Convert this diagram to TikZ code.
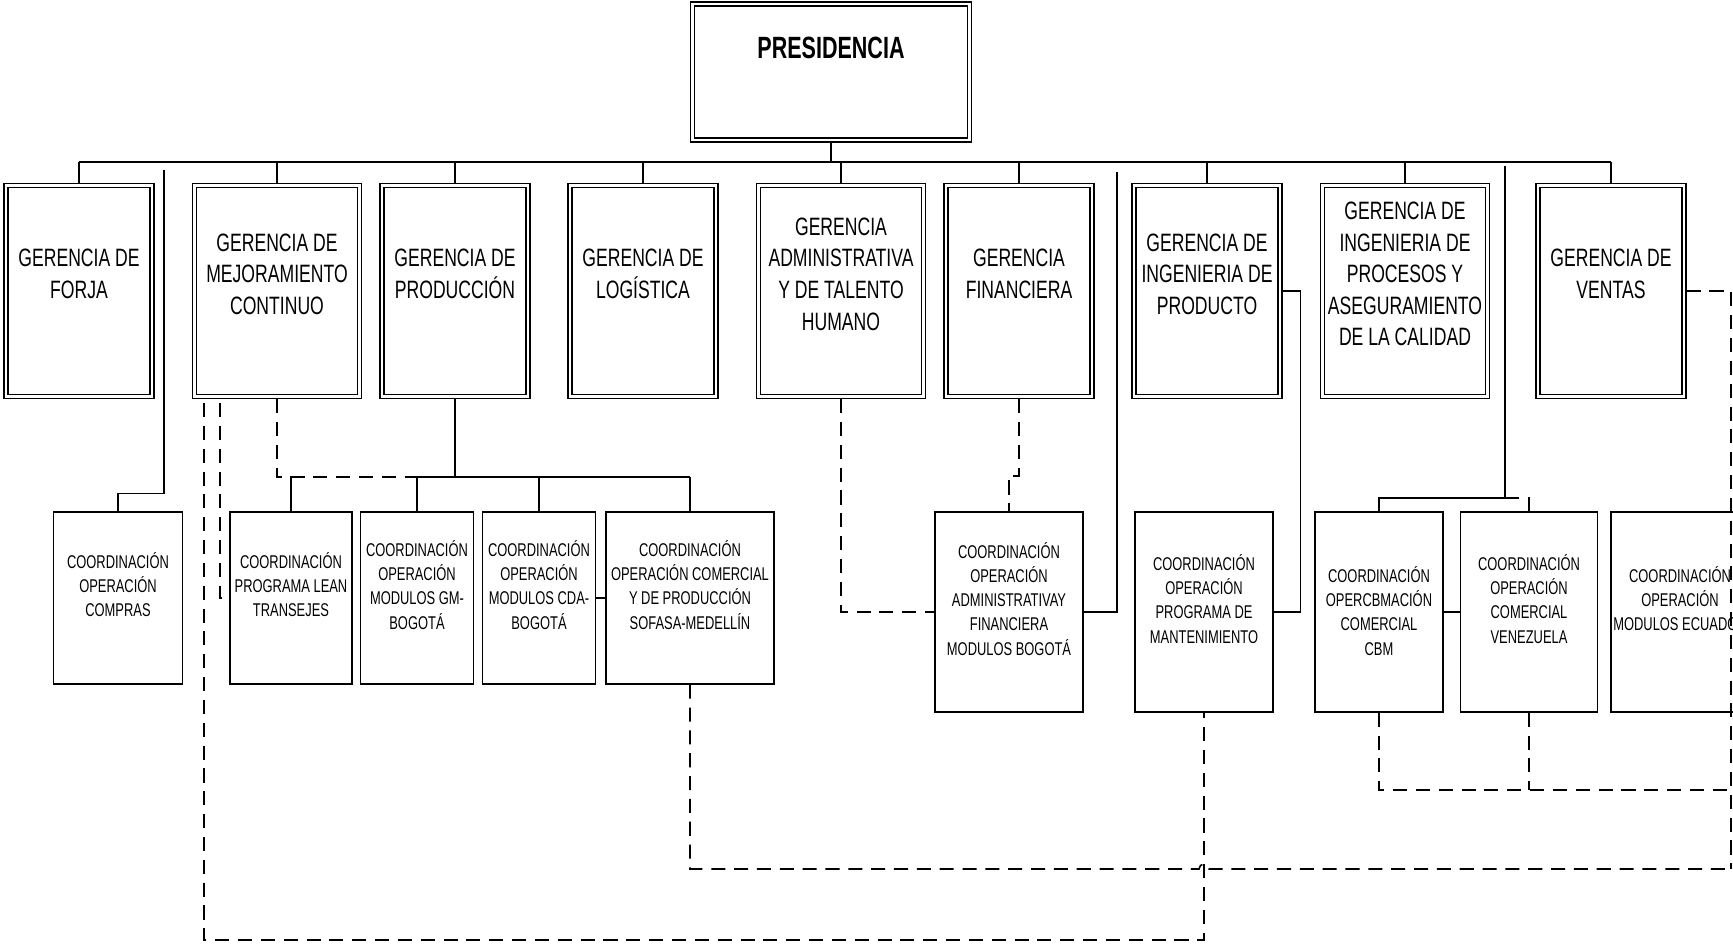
\documentclass[tikz,border=0pt]{standalone}
\usepackage{fontspec}
\setmainfont{Liberation Sans}[FakeStretch=0.7]
\usepackage{tikz}
\usetikzlibrary{positioning, calc}

\begin{document}
\begin{tikzpicture}[
    x=0.02cm, y=-0.02cm,
    gbox/.style={rectangle, draw, double, double distance=1.6pt, line width=0.7pt, minimum width=2.92cm, minimum height=4.22cm, outer sep=1.5pt},
    wide/.style={minimum width=3.3cm},
    gtext/.style={align=center, inner sep=0pt, font=\fontsize{14.3}{18}\selectfont},
    ptext/.style={inner sep=0pt, font=\bfseries\fontsize{17.5}{20}\selectfont},
    cbox/.style={rectangle, draw, line width=0.8pt, minimum height=3.44cm},
    tall/.style={minimum height=4cm},
    ctext/.style={align=center, inner sep=0pt, font=\fontsize{10.5}{13.7}\selectfont},
    conn/.style={line width=0.8pt},
    bus/.style={line width=1.3pt},
    dconn/.style={line width=0.9pt, dash pattern=on 8pt off 5pt}
]
\useasboundingbox (0,0) rectangle (1733,945);
\clip (0,0) rectangle (1733,945);

% Presidencia
\node[gbox, minimum width=5.53cm, minimum height=2.72cm] (pres) at (831,72) {};
\node[ptext] (prestxt) at (831,48) {PRESIDENCIA};

% Gerencias
\node[gbox] (forja) at (79,291) {};
\node[gbox, wide] (mej) at (277,291) {};
\node[gbox] (prod) at (455,291) {};
\node[gbox] (log) at (643,291) {};
\node[gbox, wide] (adm) at (841,291) {};
\node[gbox] (fin) at (1019,291) {};
\node[gbox] (ingp) at (1207,291) {};
\node[gbox, wide] (proc) at (1405,291) {};
\node[gbox] (ventas) at (1611,291) {};

% Gerencia labels
\node[gtext] (forjatxt) at (79,274) {GERENCIA DE\\FORJA};
\node[gtext] (mejtxt) at (277,274) {GERENCIA DE\\MEJORAMIENTO\\CONTINUO};
\node[gtext] (prodtxt) at (455,274) {GERENCIA DE\\PRODUCCIÓN};
\node[gtext] (logtxt) at (643,274) {GERENCIA DE\\LOGÍSTICA};
\node[gtext] (admtxt) at (841,274) {GERENCIA\\ADMINISTRATIVA\\Y DE TALENTO\\HUMANO};
\node[gtext] (fintxt) at (1019,274) {GERENCIA\\FINANCIERA};
\node[gtext] (ingptxt) at (1207,274) {GERENCIA DE\\INGENIERIA DE\\PRODUCTO};
\node[gtext] (proctxt) at (1405,274) {GERENCIA DE\\INGENIERIA DE\\PROCESOS Y\\ASEGURAMIENTO\\DE LA CALIDAD};
\node[gtext] (ventastxt) at (1611,274) {GERENCIA DE\\VENTAS};

% Coordinaciones
\node[cbox, minimum width=2.58cm] (comp) at (118,598) {};
\node[cbox, minimum width=2.44cm] (lean) at (291,598) {};
\node[cbox, minimum width=2.26cm] (gm) at (417,598) {};
\node[cbox, minimum width=2.26cm] (cda) at (539,598) {};
\node[cbox, minimum width=3.36cm] (sofasa) at (690,598) {};
\node[cbox, tall, minimum width=2.96cm] (admfin) at (1009,612) {};
\node[cbox, tall, minimum width=2.76cm] (mant) at (1204,612) {};
\node[cbox, tall, minimum width=2.56cm] (cbm) at (1379,612) {};
\node[cbox, tall, minimum width=2.74cm] (venz) at (1529,612) {};
\node[cbox, tall, minimum width=2.76cm] (ecu) at (1680,612) {};

% Coordinacion labels
\node[ctext] (comptxt) at (118,585) {COORDINACIÓN\\OPERACIÓN\\COMPRAS};
\node[ctext] (leantxt) at (291,585) {COORDINACIÓN\\PROGRAMA LEAN\\TRANSEJES};
\node[ctext] (gmtxt) at (417,585) {COORDINACIÓN\\OPERACIÓN\\MODULOS GM-\\BOGOTÁ};
\node[ctext] (cdatxt) at (539,585) {COORDINACIÓN\\OPERACIÓN\\MODULOS CDA-\\BOGOTÁ};
\node[ctext] (sofasatxt) at (690,585) {COORDINACIÓN\\OPERACIÓN COMERCIAL\\Y DE PRODUCCIÓN\\SOFASA-MEDELLÍN};
\node[ctext] (admfintxt) at (1009,599) {COORDINACIÓN\\OPERACIÓN\\ADMINISTRATIVAY\\FINANCIERA\\MODULOS BOGOTÁ};
\node[ctext] (manttxt) at (1204,599) {COORDINACIÓN\\OPERACIÓN\\PROGRAMA DE\\MANTENIMIENTO};
\node[ctext] (cbmtxt) at (1379,611) {COORDINACIÓN\\OPERCBMACIÓN\\COMERCIAL\\CBM};
\node[ctext] (venztxt) at (1529,599) {COORDINACIÓN\\OPERACIÓN\\COMERCIAL\\VENEZUELA};
\node[ctext] (ecutxt) at (1680,599) {COORDINACIÓN\\OPERACIÓN\\MODULOS ECUADOR};

% Bus from presidencia
\coordinate (busl) at (79,162);
\coordinate (busr) at (1611,162);
\draw[bus] (pres.south) -- (pres.south |- busl);
\draw[bus] (busl) -- (busr);
\draw[conn] (forja.north) -- (forja.north |- busl);
\draw[conn] (mej.north) -- (mej.north |- busl);
\draw[conn] (prod.north) -- (prod.north |- busl);
\draw[conn] (log.north) -- (log.north |- busl);
\draw[conn] (adm.north) -- (adm.north |- busl);
\draw[conn] (fin.north) -- (fin.north |- busl);
\draw[conn] (ingp.north) -- (ingp.north |- busl);
\draw[conn] (proc.north) -- (proc.north |- busl);
\draw[conn] (ventas.north) -- (ventas.north |- busl);

% Lines hanging near the bus
\coordinate (compfree) at (164,170);
\coordinate (admfree) at (1117,172);
\coordinate (venzfree) at (1505,166);
\coordinate (venzj) at (1505,498);
\draw[conn] (compfree) |- ($(comp.north)+(0,-18)$) -- (comp.north);
\draw[conn] (admfree) |- (admfin.east);
\draw[conn] (venzfree) -- (venzj) -| (cbm.north);
\draw[dconn] (venzj) -| (venz.north);
\draw[conn] (ingp.east) -- ++(18,0) |- (mant.east);
\draw[conn] (cbm.east) -- (venz.west);
\draw[conn] (cda.east) -- (sofasa.west);

% Produccion
\coordinate (prodj) at (455,477);
\draw[conn] (prod.south) -- (prodj);
\draw[conn] (gm.north |- prodj) -- (sofasa.north |- prodj);
\draw[conn] (gm.north) -- (gm.north |- prodj);
\draw[conn] (cda.north) -- (cda.north |- prodj);
\draw[conn] (sofasa.north) -- (sofasa.north |- prodj);
\draw[conn] (lean.north) -- (lean.north |- prodj);

% Dashed links
\coordinate (mejfree1) at (220,403);
\coordinate (mejfree2) at (204,403);
\coordinate (mejb) at (204,940);
\coordinate (vcorner) at (1731,869);
\coordinate (vmid) at (1731,790);
\draw[dconn] (mej.south) |- (gm.north |- prodj);
\draw[dconn] (mejfree1) |- (lean.west);
\draw[dconn] (mejfree2) -- (mejb) -| (mant.south);
\draw[dconn] (adm.south) |- (admfin.west);
\draw[dconn] (fin.south) -- ++(0,77) -| (admfin.north);
\draw[dconn] (ventas.east) -| (vcorner);
\draw[dconn] (sofasa.south) |- ($(mant.south |- vcorner)+(-5,0)$)
    arc[start angle=180, end angle=360, radius=5] -- (vcorner);
\draw[dconn] (cbm.south) |- (vmid);
\draw[dconn] (venz.south) -- (venz.south |- vmid);

\end{tikzpicture}
\end{document}
